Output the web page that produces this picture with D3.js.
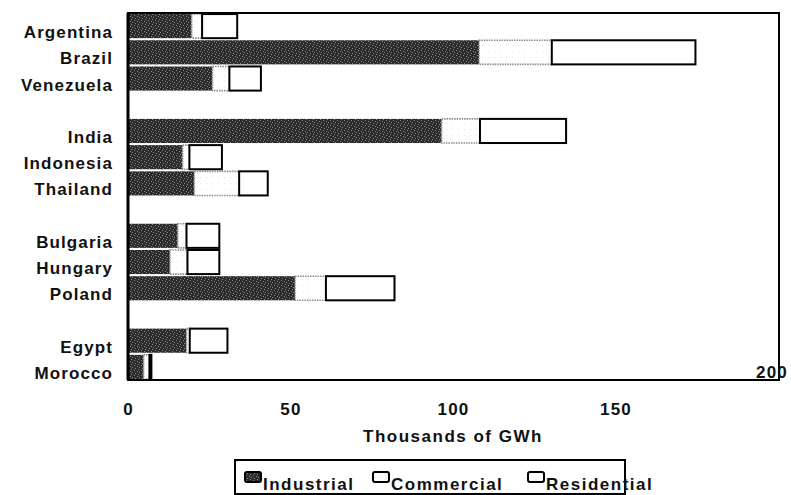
<!DOCTYPE html>
<html>
<head>
<meta charset="utf-8">
<script src="https://cdn.jsdelivr.net/npm/d3@7"></script>
<style>
  html, body { margin: 0; padding: 0; background: #fff; }
  svg text { font-family: "Liberation Sans", Arial, sans-serif; font-weight: bold; fill: #111; }
</style>
</head>
<body>
<svg id="chart" width="791" height="495"></svg>
<script>
// Electricity consumption by sector, thousands of GWh
const categories = ["Argentina", "Brazil", "Venezuela",
                    "India", "Indonesia", "Thailand",
                    "Bulgaria", "Hungary", "Poland",
                    "Egypt", "Morocco"];
// regional group of each country (a blank row separates groups)
const groups = [0, 0, 0, 1, 1, 1, 2, 2, 2, 3, 3];
const industrial  = [19.6, 108.0, 26.0, 96.5, 16.8, 20.4, 15.3, 12.9, 51.4, 18.0, 4.8];
const commercial  = [ 3.2,  22.4,  5.2, 11.8,  2.1, 13.8,  2.7,  5.4,  9.5,  1.0, 1.8];
const residential = [10.8,  44.2,  9.7, 26.5, 10.0,  8.8, 10.1,  9.8, 21.1, 11.6, 0.6];
const seriesNames = ["Industrial", "Commercial", "Residential"];
const xTicks = [0, 50, 100, 150];
const xMaxLabel = 200;
const axisTitle = "Thousands of GWh";

const svg = d3.select("#chart");
const plot = { left: 128, right: 778, top: 13, bottom: 380 };

const rows = categories.map((c, i) => ({
  name: c,
  slot: i + groups[i],
  Industrial: industrial[i],
  Commercial: commercial[i],
  Residential: residential[i]
}));
const nSlots = d3.max(rows, d => d.slot) + 1;

const x = d3.scaleLinear().domain([0, 200]).range([plot.left, plot.right]);
const y = d3.scaleBand().domain(d3.range(nSlots))
  .range([plot.top, plot.bottom]).paddingInner(0.08).paddingOuter(0.04);

// fill textures
const defs = svg.append("defs");
const pat = defs.append("pattern").attr("id", "indPat")
  .attr("width", 7).attr("height", 5).attr("patternUnits", "userSpaceOnUse");
pat.append("rect").attr("width", 7).attr("height", 5).attr("fill", "#2b2b2b");
[[1, 0], [4, 1], [2, 3], [6, 2], [5, 4]].forEach(([px, py]) =>
  pat.append("rect").attr("x", px).attr("y", py).attr("width", 1).attr("height", 1).attr("fill", "#8a8a8a"));

const pat2 = defs.append("pattern").attr("id", "comPat")
  .attr("width", 6).attr("height", 6).attr("patternUnits", "userSpaceOnUse");
pat2.append("rect").attr("width", 6).attr("height", 6).attr("fill", "#ffffff");
pat2.append("rect").attr("x", 2).attr("y", 3).attr("width", 1).attr("height", 1).attr("fill", "#e4e4e4");

const fills = { Industrial: "url(#indPat)", Commercial: "url(#comPat)", Residential: "#ffffff" };
const strokes = { Industrial: "none", Commercial: "#8c8c8c", Residential: "#000" };
const dash = { Industrial: null, Commercial: "1.5,1", Residential: null };
const sw = { Industrial: 0, Commercial: 1.6, Residential: 2 };

const stacked = d3.stack().keys(seriesNames)(rows);

svg.append("g").selectAll("g").data(stacked).join("g")
  .each(function (s) {
    d3.select(this).selectAll("rect").data(s).join("rect")
      .attr("x", d => x(d[0]))
      .attr("y", d => y(d.data.slot))
      .attr("width", d => Math.max(0, x(d[1]) - x(d[0])))
      .attr("height", y.bandwidth())
      .attr("fill", fills[s.key])
      .attr("stroke", strokes[s.key])
      .attr("stroke-width", sw[s.key])
      .attr("stroke-dasharray", dash[s.key]);
  });

// plot frame
svg.append("rect")
  .attr("x", plot.left).attr("y", plot.top)
  .attr("width", plot.right - plot.left + 1).attr("height", plot.bottom - plot.top)
  .attr("fill", "none").attr("stroke", "#000").attr("stroke-width", 2);
svg.append("line")
  .attr("x1", plot.left).attr("x2", plot.left)
  .attr("y1", plot.top).attr("y2", plot.bottom)
  .attr("stroke", "#000").attr("stroke-width", 3);

// category labels
svg.append("g").selectAll("text").data(rows).join("text")
  .attr("x", 113)
  .attr("y", d => y(d.slot) + y.bandwidth() / 2 + 12)
  .attr("text-anchor", "end")
  .attr("font-size", 17)
  .attr("letter-spacing", 1.1)
  .text(d => d.name);

// x axis tick labels
const xAxis = d3.axisBottom(x).tickValues(xTicks).tickSize(0).tickPadding(0)
  .tickFormat(d3.format("d"));
const gx = svg.append("g").attr("transform", `translate(0, 402)`).call(xAxis);
gx.select(".domain").remove();
gx.selectAll("text")
  .attr("dy", 13).attr("y", 0)
  .attr("font-size", 17).attr("letter-spacing", 1.2)
  .style("font-family", "'Liberation Sans', Arial, sans-serif")
  .style("font-weight", "bold").attr("fill", "#111");

svg.append("text")
  .attr("x", x(xMaxLabel) - 6).attr("y", 378)
  .attr("text-anchor", "middle").attr("font-size", 17).attr("letter-spacing", 1.2)
  .text(xMaxLabel);

// axis title
svg.append("text")
  .attr("x", x(100)).attr("y", 442)
  .attr("text-anchor", "middle").attr("font-size", 17).attr("letter-spacing", 1.5)
  .text(axisTitle);

// legend
const lg = svg.append("g");
lg.append("rect").attr("x", 235).attr("y", 460).attr("width", 390).attr("height", 34)
  .attr("fill", "none").attr("stroke", "#000").attr("stroke-width", 2);
const legendX = [245, 373, 528];
seriesNames.forEach((k, i) => {
  lg.append("rect").attr("x", legendX[i]).attr("y", 472).attr("width", 16).attr("height", 10)
    .attr("rx", 2)
    .attr("fill", fills[k]).attr("stroke", "#000").attr("stroke-width", 2);
  lg.append("text").attr("x", legendX[i] + 18).attr("y", 490)
    .attr("font-size", 17).attr("letter-spacing", 1.5).text(k);
});
</script>
</body>
</html>
